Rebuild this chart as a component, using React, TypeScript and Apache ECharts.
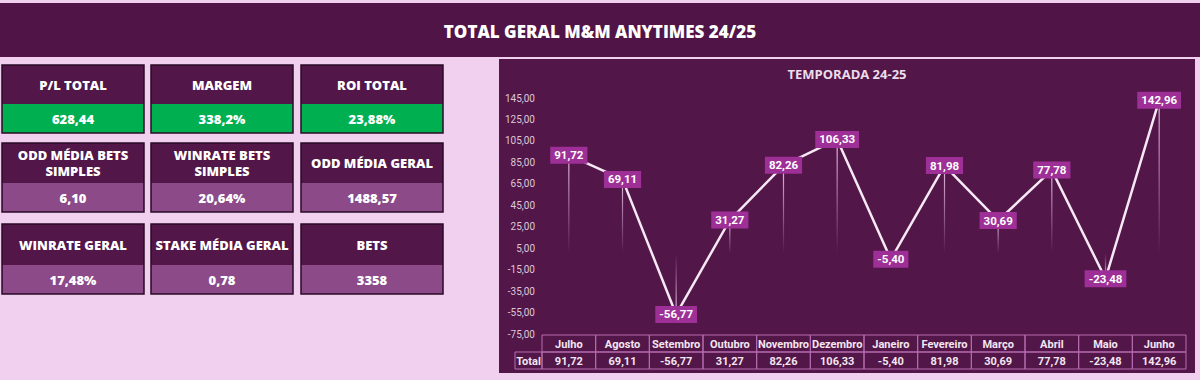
import React, { useEffect, useRef } from 'react';
import * as echarts from 'echarts';

const months = ['Julho', 'Agosto', 'Setembro', 'Outubro', 'Novembro', 'Dezembro', 'Janeiro', 'Fevereiro', 'Março', 'Abril', 'Maio', 'Junho'];
const totals = [91.72, 69.11, -56.77, 31.27, 82.26, 106.33, -5.40, 81.98, 30.69, 77.78, -23.48, 142.96];
const kpiTitles = ['P/L TOTAL', 'MARGEM', 'ROI TOTAL', 'ODD MÉDIA BETS\nSIMPLES', 'WINRATE BETS\nSIMPLES', 'ODD MÉDIA GERAL', 'WINRATE GERAL', 'STAKE MÉDIA GERAL', 'BETS'];
const kpiValues = ['628,44', '338,2%', '23,88%', '6,10', '20,64%', '1488,57', '17,48%', '0,78', '3358'];
const pageTitle = 'TOTAL GERAL M&M ANYTIMES 24/25';
const chartTitle = 'TEMPORADA 24-25';
const rowLabel = 'Total';
const yMin = -75;
const yMax = 145;
const yStep = 20;

const fmt = (v: number) => v.toFixed(2).replace('.', ',');

const GL = 542, GR = 1186, GT = 98, GB = 334;

export default function App() {
  const ref = useRef<HTMLDivElement>(null);
  useEffect(() => {
    document.body.style.margin = '0';
    const chart = echarts.init(ref.current!, null, { renderer: 'svg' });

    const graphic: any[] = [];
    // title bar
    graphic.push({ type: 'rect', z: -10, shape: { x: 0, y: 3, width: 1200, height: 54 }, style: { fill: '#501446' } });
    graphic.push({
      type: 'text', z: 5, x: 600, y: 31,
      style: { text: pageTitle, fill: '#ffffff', fontSize: 17, fontWeight: 800, fontFamily: '"Liberation Sans Narrow", "Open Sans", sans-serif', align: 'center', verticalAlign: 'middle' },
    });
    // KPI boxes
    const colX = [2, 151, 301];
    const rowY = [65, 143, 224];
    const headH = [39, 40, 41];
    const valH = 29;
    kpiTitles.forEach((t, i) => {
      const r = Math.floor(i / 3), c = i % 3;
      const x = colX[c], y = rowY[r], w = 142;
      const vc = r === 0 ? '#00B050' : '#8C4A89';
      graphic.push({ type: 'rect', z: -5, shape: { x, y, width: w, height: headH[r] }, style: { fill: '#521648' } });
      graphic.push({ type: 'rect', z: -5, shape: { x, y: y + headH[r], width: w, height: valH }, style: { fill: vc } });
      graphic.push({ type: 'rect', z: -4, shape: { x, y, width: w, height: headH[r] + valH }, style: { fill: 'none', stroke: '#2A0A26', lineWidth: 1.5 } });
      graphic.push({
        type: 'text', z: 5, x: x + w / 2, y: y + headH[r] / 2,
        style: { text: t, fill: '#ffffff', fontSize: 13, fontWeight: 800, fontFamily: '"Open Sans", sans-serif', align: 'center', verticalAlign: 'middle', lineHeight: 16 },
      });
      graphic.push({
        type: 'text', z: 5, x: x + w / 2, y: y + headH[r] + valH / 2,
        style: { text: kpiValues[i], fill: '#ffffff', fontSize: 13, fontWeight: 800, fontFamily: '"Open Sans", sans-serif', align: 'center', verticalAlign: 'middle' },
      });
    });
    // chart panel
    graphic.push({ type: 'rect', z: -10, shape: { x: 499, y: 59, width: 696, height: 314 }, style: { fill: '#521648' } });
    graphic.push({
      type: 'text', z: 5, x: 847, y: 74,
      style: { text: chartTitle, fill: '#EBDDEB', fontSize: 13, fontWeight: 'bold', fontFamily: '"Open Sans", sans-serif', align: 'center', verticalAlign: 'middle' },
    });
    // table
    const bw = (GR - GL) / months.length;
    const tTop = 335, rh = 17;
    const border = '#B66CB0';
    const tFont = { fontSize: 11, fontWeight: 'bold', fontFamily: '"Roboto", sans-serif', align: 'center', verticalAlign: 'middle', fill: '#F3E6F1' };
    months.forEach((m, i) => {
      const x = GL + i * bw;
      graphic.push({ type: 'rect', z: 1, shape: { x, y: tTop, width: bw, height: rh }, style: { fill: 'none', stroke: border, lineWidth: 1 } });
      graphic.push({ type: 'rect', z: 1, shape: { x, y: tTop + rh, width: bw, height: rh }, style: { fill: 'none', stroke: border, lineWidth: 1 } });
      graphic.push({ type: 'text', z: 5, x: x + bw / 2, y: tTop + rh / 2 + 0.5, style: { ...tFont, text: m } });
      graphic.push({ type: 'text', z: 5, x: x + bw / 2, y: tTop + rh * 1.5 + 0.5, style: { ...tFont, text: fmt(totals[i]) } });
    });
    graphic.push({ type: 'rect', z: 1, shape: { x: 515, y: tTop + rh, width: GL - 515, height: rh }, style: { fill: 'none', stroke: border, lineWidth: 1 } });
    graphic.push({ type: 'text', z: 5, x: (515 + GL) / 2, y: tTop + rh * 1.5 + 0.5, style: { ...tFont, text: rowLabel } });

    const dropData = totals.map((v) => ({
      value: v,
      itemStyle: {
        color: new echarts.graphic.LinearGradient(0, 0, 0, 1, [
          { offset: 0, color: v >= 0 ? 'rgba(240,200,236,0.95)' : 'rgba(240,200,236,0)' },
          { offset: 1, color: v >= 0 ? 'rgba(240,200,236,0)' : 'rgba(240,200,236,0.95)' },
        ]),
      },
    }));

    chart.setOption({
      animation: false,
      backgroundColor: '#F0D0EE',
      graphic,
      grid: { left: GL, top: GT, width: GR - GL, height: GB - GT, containLabel: false },
      xAxis: {
        type: 'category', data: months, boundaryGap: true,
        axisLine: { show: false }, axisTick: { show: false }, axisLabel: { show: false }, splitLine: { show: false },
      },
      yAxis: {
        type: 'value', min: yMin, max: yMax, interval: yStep,
        axisLine: { show: false }, axisTick: { show: false }, splitLine: { show: false },
        axisLabel: { color: '#DCC8DA', fontSize: 10, margin: 7, fontFamily: '"Roboto", sans-serif', formatter: (v: number) => fmt(v) },
      },
      series: [
        {
          type: 'bar', data: dropData, barWidth: 1.2, z: 1, silent: true,
        },
        {
          type: 'line', data: totals, z: 3, clip: false,
          symbol: 'rect', symbolSize: 1,
          itemStyle: { color: '#9D2F97' },
          lineStyle: { color: '#F6E8F4', width: 2.5 },
          label: {
            show: true, position: 'inside', formatter: (p: any) => fmt(p.value),
            backgroundColor: '#9D2F97', color: '#ffffff', fontSize: 11.5, fontWeight: 'bold',
            fontFamily: '"Roboto", sans-serif', padding: [3, 4, 2, 4],
          },
        },
      ],
    });
    return () => chart.dispose();
  }, []);
  return <div ref={ref} style={{ position: 'absolute', left: 0, top: 0, width: 1200, height: 380 }} />;
}
